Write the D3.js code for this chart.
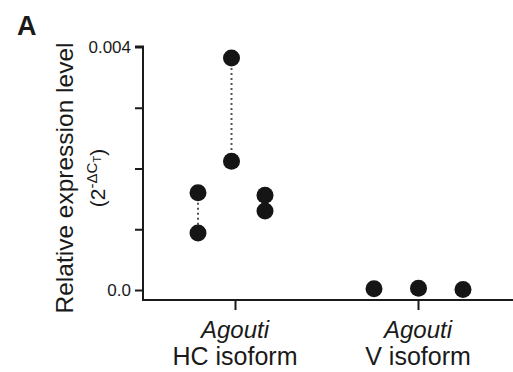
<!DOCTYPE html>
<html><head><meta charset="utf-8">
<script src="https://cdn.jsdelivr.net/npm/d3@7"></script>
<style>body{margin:0;background:#fff;} svg{display:block;} text{font-family:"Liberation Sans",Arial,sans-serif;fill:#1a1a1a;}</style>
</head><body>
<script>
const categories = ["HC", "V"];
const categoryLine1 = ["Agouti", "Agouti"];
const categoryLine2 = ["HC isoform", "V isoform"];
const samples = ["s1", "s2", "s3"];
// HC isoform: paired measurements (upper, lower) per sample
const hcUpper = [0.00160, 0.00382, 0.00156];
const hcLower = [0.00094, 0.00212, 0.00130];
// V isoform: single measurement per sample
const vValues = [0.00002, 0.00003, 0.00001];
const yTicks = [0, 0.001, 0.002, 0.003, 0.004];
const yTickLabels = ["0.0", "", "", "", "0.004"];

const W = 513, H = 372;
const svg = d3.select("body").append("svg").attr("width", W).attr("height", H);

const y = d3.scaleLinear().domain([0, 0.004]).range([290, 47]);
const x = d3.scalePoint().domain(categories).range([235, 418]);
const subHC = d3.scalePoint().domain(samples).range([-37, 30]);
const subV = d3.scalePoint().domain(samples).range([-44, 45]);

// y axis
const yAxis = d3.axisLeft(y).tickValues(yTicks).tickFormat((d, i) => yTickLabels[i]).tickSize(8).tickPadding(4);
const gy = svg.append("g").attr("transform", "translate(143,0)").call(yAxis);
gy.select(".domain").attr("d", "M-8,46.5H0V300.5H0");
gy.selectAll(".domain, line").attr("stroke", "#1a1a1a").attr("stroke-width", 2);
gy.selectAll("text").style("font-size", "17px").attr("fill", "#1a1a1a");

// x axis
const xAxis = d3.axisBottom(x).tickSize(10).tickFormat("");
const gx = svg.append("g").attr("transform", "translate(0,300)").call(xAxis);
gx.select(".domain").attr("d", "M142,0H513");
gx.selectAll(".domain, line").attr("stroke", "#1a1a1a").attr("stroke-width", 2);

// category labels
categories.forEach((c, i) => {
  svg.append("text").attr("x", x(c)).attr("y", 338).attr("text-anchor", "middle")
    .style("font-size", "24px").style("font-style", "italic").text(categoryLine1[i]);
  svg.append("text").attr("x", x(c)).attr("y", 365).attr("text-anchor", "middle")
    .style("font-size", "25px").text(categoryLine2[i]);
});

// y label
svg.append("text").attr("transform", "translate(73,178) rotate(-90)").attr("text-anchor", "middle")
  .style("font-size", "24.5px").text("Relative expression level");
const yl2 = svg.append("text").attr("transform", "translate(105,178) rotate(-90)").attr("text-anchor", "middle")
  .style("font-size", "21px");
yl2.append("tspan").text("(2");
yl2.append("tspan").attr("dy", -8).style("font-size", "15px").text("-ΔC");
yl2.append("tspan").attr("dy", 4).style("font-size", "11px").text("T");
yl2.append("tspan").attr("dy", 4).text(")");

// panel letter
svg.append("text").attr("x", 17).attr("y", 35).style("font-size", "27px").style("font-weight", "bold").text("A");

// HC connectors and points
const hc = samples.map((s, i) => ({s, up: hcUpper[i], lo: hcLower[i]}));
svg.selectAll(".conn").data(hc).enter().append("line")
  .attr("x1", d => x("HC") + subHC(d.s)).attr("x2", d => x("HC") + subHC(d.s))
  .attr("y1", d => y(d.up)).attr("y2", d => y(d.lo))
  .attr("stroke", "#555").attr("stroke-width", 2).attr("stroke-dasharray", "2,3");
const pts = [];
hc.forEach(d => { pts.push({cx: x("HC") + subHC(d.s), v: d.up}); pts.push({cx: x("HC") + subHC(d.s), v: d.lo}); });
samples.forEach((s, i) => pts.push({cx: x("V") + subV(s), v: vValues[i]}));
svg.selectAll(".pt").data(pts).enter().append("circle")
  .attr("cx", d => d.cx).attr("cy", d => y(d.v)).attr("r", 8.5).attr("fill", "#151515");
</script>
</body></html>
